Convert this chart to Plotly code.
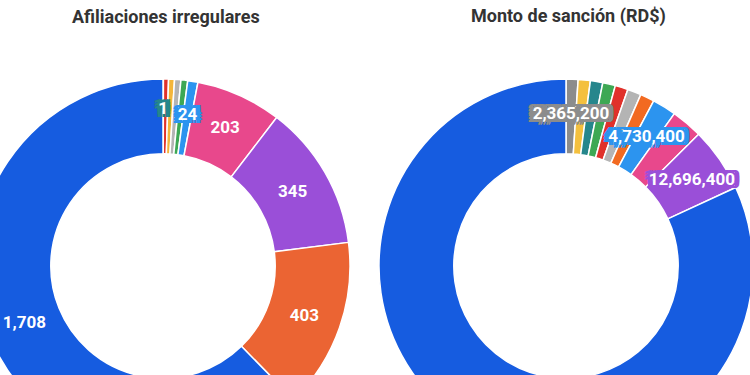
import plotly.graph_objects as go

# ---------------- data ----------------
left_title = "Afiliaciones irregulares"
left_values = [1, 12, 14, 15, 16, 24, 203, 345, 403, 1708]
left_colors = ["#26868C", "#E0312B", "#F4B63A", "#B4B4B4", "#3DA854",
               "#2C94EF", "#E8488C", "#9A4FD8", "#EB6433", "#165CE0"]
# label mode per slice: 0 = no label, 1 = label inside slice, 2 = small slice, boxed label
left_label = [2, 0, 0, 0, 0, 2, 1, 1, 1, 1]

right_title = "Monto de sanción (RD$)"
right_values = [2365200, 2400000, 2450000, 2500000, 2550000, 2700000, 2800000,
                4730400, 6200000, 12696400, 187200000]
right_colors = ["#8C8C8C", "#F4C03E", "#26868C", "#3DA854", "#E0312B", "#B4B4B4",
                "#F26A21", "#2C94EF", "#E8488C", "#9A4FD8", "#165CE0"]
right_label = [2, 0, 0, 0, 0, 0, 0, 2, 0, 2, 0]

# ---------------- layout geometry ----------------
W, H = 778, 460
SHIFT = 24  # page offset so the left ring is cropped like the reference
CY = 266
R = 187          # outer radius of the rings
R_LABEL = 158    # radius of the invisible label ring
FONT = 17


def shadow(c, d=3):
    offs = [(d, 0), (-d, 0), (0, d), (0, -d), (d, d), (-d, d), (d, -d), (-d, -d),
            (d + 2, 0), (-d - 2, 0), (d + 2, d), (-d - 2, d), (d + 2, -d), (-d - 2, -d)]
    return ", ".join(f"{x}px {y}px 0 {c}" for x, y in offs)


def dom(cx, r):
    return dict(x=[max(0, (cx - r) / W), min(1, (cx + r) / W)],
                y=[(H - (CY + r)) / H, (H - (CY - r)) / H])


def base_pie(values, colors, label, cx):
    text = [f"{v:,}" if m == 1 else "" for v, m in zip(values, label)]
    return go.Pie(
        values=values, text=text, textinfo="text",
        textposition="inside", insidetextorientation="horizontal",
        sort=False, direction="clockwise", rotation=0, hole=0.6,
        marker=dict(colors=colors, line=dict(color="white", width=1.5)),
        textfont=dict(family="Roboto", size=FONT, color="white", weight="bold"),
        domain=dom(cx, R), showlegend=False, hoverinfo="value",
    )


def label_pie(values, colors, label, cx):
    text = [f"{v:,}" if m == 2 else "" for v, m in zip(values, label)]
    return go.Pie(
        values=values, text=text, textinfo="text",
        textposition="inside", insidetextorientation="horizontal",
        sort=False, direction="clockwise", rotation=0, hole=0.94,
        marker=dict(colors=["rgba(0,0,0,0)"] * len(values), line=dict(width=0)),
        textfont=dict(family="Roboto", size=FONT, color="white", weight="bold",
                      shadow=[shadow(c) for c in colors]),
        domain=dom(cx, R_LABEL), showlegend=False, hoverinfo="skip",
    )


left_cx, right_cx = 163 + SHIFT, 566 + SHIFT

fig = go.Figure()
fig.add_trace(base_pie(left_values, left_colors, left_label, left_cx))
fig.add_trace(base_pie(right_values, right_colors, right_label, right_cx))
fig.add_trace(label_pie(left_values, left_colors, left_label, left_cx))
fig.add_trace(label_pie(right_values, right_colors, right_label, right_cx))

for t, cx in [(left_title, left_cx + 3), (right_title, right_cx + 2)]:
    fig.add_annotation(text=f"<b>{t}</b>", x=cx / W, y=(H - 16) / H,
                       xref="paper", yref="paper", showarrow=False,
                       xanchor="center", yanchor="middle",
                       font=dict(family="Roboto", size=18, color="#333333"))

fig.update_layout(
    width=W, height=H,
    margin=dict(l=0, r=0, t=0, b=0),
    paper_bgcolor="white", plot_bgcolor="white",
    uniformtext=dict(minsize=FONT, mode="show"),
)

post = ("var gd=document.getElementById('{plot_id}');"
        "gd.style.marginLeft='-%dpx';"
        "document.body.style.margin='0';"
        "document.body.style.overflow='hidden';" % SHIFT)

fig.write_html("out.html", post_script=post, config={"displayModeBar": False})
